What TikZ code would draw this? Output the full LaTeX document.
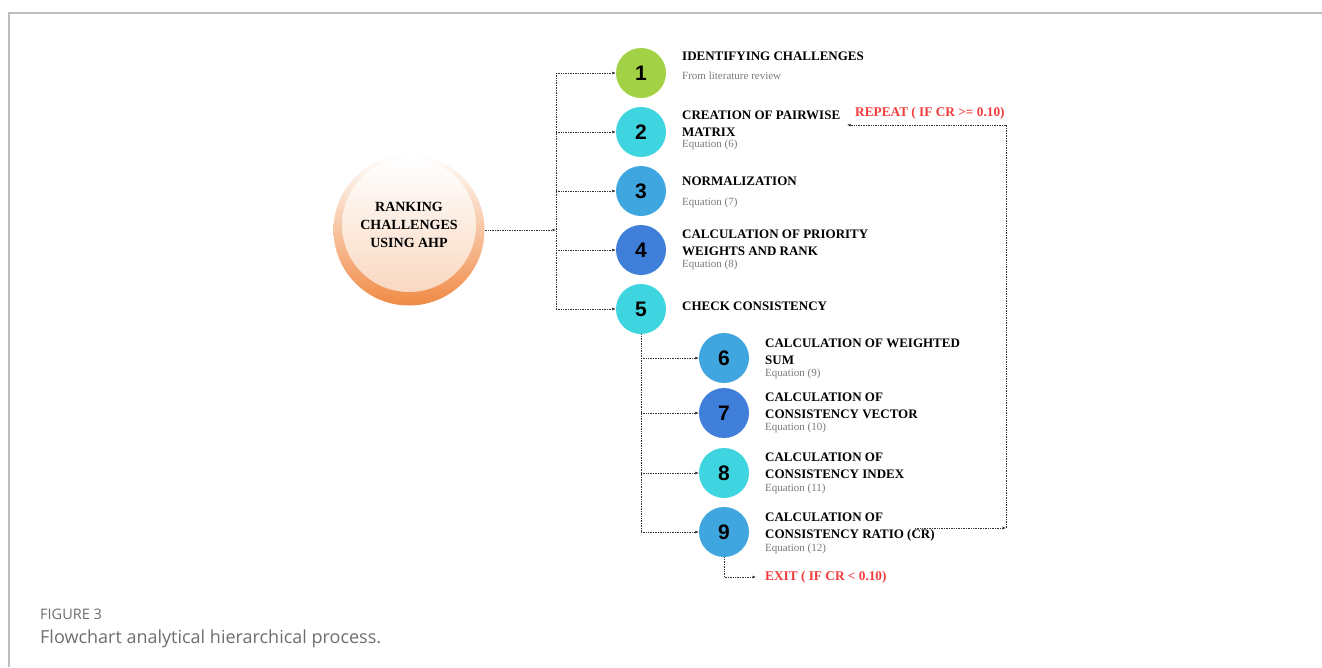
\documentclass[tikz,border=0pt]{standalone}
\usepackage{fontspec}
\setmainfont{Liberation Serif}
\newfontfamily\numfont{Liberation Sans}
\newfontfamily\capfont{Open Sans}
\usetikzlibrary{arrows.meta}

\definecolor{stepgreen}{HTML}{A3D145}
\definecolor{stepcyan}{HTML}{3ED4E0}
\definecolor{stepblue}{HTML}{40A6E0}
\definecolor{stepdark}{HTML}{3F7FDA}
\definecolor{mainorange}{HTML}{F08A45}
\definecolor{mainpeach}{HTML}{F9D8C0}
\definecolor{alertred}{HTML}{F23B3B}
\definecolor{eqgray}{HTML}{7A7A7A}
\definecolor{capgray}{HTML}{6E6E6E}
\definecolor{framegray}{HTML}{BDBDBD}
\definecolor{linkgray}{HTML}{333333}

\tikzset{
  numdisc/.style={circle, inner sep=0, minimum size=50,
    font=\numfont\bfseries\fontsize{21}{21}\selectfont},
  lbl/.style={anchor=north west, inner sep=0, align=left,
    font=\bfseries\fontsize{13}{17}\selectfont},
  eqlbl/.style={anchor=base west, inner sep=0, text=eqgray,
    font=\fontsize{11}{11}\selectfont},
  redlbl/.style={inner sep=0, text=alertred,
    font=\bfseries\fontsize{13.3}{13.3}\selectfont},
  trunk/.style={densely dotted, line width=0.7, linkgray},
  link/.style={trunk, -{Latex[length=3.5,width=3]}}
}

\begin{document}
\begin{tikzpicture}[x=1pt, y=-1pt]
\useasboundingbox (0,0) rectangle (1322,667);
% Frame
    \draw[framegray, line width=1.2] (9,667) -- (9,13) -- (1322,13);

% Main circle
    \node[circle, minimum size=151, inner sep=0, top color=white, bottom color=mainorange] (main) at (409,230) {};
    \node[circle, minimum size=134, inner sep=0, top color=white, bottom color=mainpeach, align=center,
      font=\bfseries\fontsize{14}{18}\selectfont] (inner) at (409,225) {RANKING\\CHALLENGES\\USING AHP};

% Steps 1-5
    \node[numdisc, fill=stepgreen] (c1) at (641,73) {1};
    \node[numdisc, fill=stepcyan]  (c2) at (641,132) {2};
    \node[numdisc, fill=stepblue]  (c3) at (641,191) {3};
    \node[numdisc, fill=stepdark]  (c4) at (641,250) {4};
    \node[numdisc, fill=stepcyan]  (c5) at (641,309) {5};

    \node[lbl] (t1) at (682,52) {IDENTIFYING CHALLENGES};
    \node[eqlbl] (e1) at (682,79) {From literature review};
    \node[lbl] (t2) at (682,111) {CREATION OF PAIRWISE\\MATRIX};
    \node[eqlbl] (e2) at (682,147) {Equation (6)};
    \node[lbl] (t3) at (682,177) {NORMALIZATION};
    \node[eqlbl] (e3) at (682,205) {Equation (7)};
    \node[lbl] (t4) at (682,230) {CALCULATION OF PRIORITY\\WEIGHTS AND RANK};
    \node[eqlbl] (e4) at (682,267) {Equation (8)};
    \node[lbl] (t5) at (682,302) {CHECK CONSISTENCY};

% Steps 6-9
    \node[numdisc, fill=stepblue]  (c6) at (724,358) {6};
    \node[numdisc, fill=stepdark]  (c7) at (724,413) {7};
    \node[numdisc, fill=stepcyan]  (c8) at (724,473) {8};
    \node[numdisc, fill=stepblue]  (c9) at (724,532) {9};

    \node[lbl] (t6) at (765,339) {CALCULATION OF WEIGHTED\\SUM};
    \node[eqlbl] (e6) at (765,376) {Equation (9)};
    \node[lbl] (t7) at (765,393) {CALCULATION OF\\CONSISTENCY VECTOR};
    \node[eqlbl] (e7) at (765,430) {Equation (10)};
    \node[lbl] (t8) at (765,453) {CALCULATION OF\\CONSISTENCY INDEX};
    \node[eqlbl] (e8) at (765,491) {Equation (11)};
    \node[lbl] (t9) at (765,513) {CALCULATION OF\\CONSISTENCY RATIO (CR)};
    \node[eqlbl] (e9) at (765,551) {Equation (12)};

% Exit and repeat
    \node[redlbl, anchor=west, inner xsep=9] (exit) at (756,577) {EXIT ( IF CR < 0.10)};
    \node[redlbl, anchor=base west] (repeat) at (855,116) {REPEAT ( IF CR >= 0.10)};

% Junctions
    \coordinate (jm) at (556,230);
    \coordinate (j1) at (556,73);
    \coordinate (j2) at (556,132);
    \coordinate (j3) at (556,191);
    \coordinate (j4) at (556,250);
    \coordinate (j5) at (556,309);
    \coordinate (k6) at (641,358);
    \coordinate (k7) at (641,413);
    \coordinate (k8) at (641,473);
    \coordinate (k9) at (641,532);
    \coordinate (rstart) at (915,528);
    \coordinate (rcorner) at (1006,528);
    \coordinate (rtop) at (1006,125);
    \coordinate (rend) at (847,125);

% Connectors
    \draw[link] (main) -- (jm);
    \draw[trunk] (j1) -- (j5);
    \draw[link] (j1) -- (c1);
    \draw[link] (j2) -- (c2);
    \draw[link] (j3) -- (c3);
    \draw[link] (j4) -- (c4);
    \draw[link] (j5) -- (c5);
    \draw[trunk] (c5) -- (k9);
    \draw[link] (k6) -- (c6);
    \draw[link] (k7) -- (c7);
    \draw[link] (k8) -- (c8);
    \draw[link] (k9) -- (c9);
    \draw[link] (c9) |- (exit);
    \draw[link] (rstart) -- (rcorner);
    \draw[link] (rcorner) -- (rtop) -- (rend);

% Caption
    \node[anchor=base west, inner sep=0, text=capgray, font=\capfont\fontsize{14.5}{14.5}\selectfont] (figno) at (40,619) {FIGURE 3};
    \node[anchor=base west, inner sep=0, text=capgray, font=\capfont\fontsize{18}{18}\selectfont] (figcap) at (40,643) {Flowchart analytical hierarchical process.};
\end{tikzpicture}
\end{document}
